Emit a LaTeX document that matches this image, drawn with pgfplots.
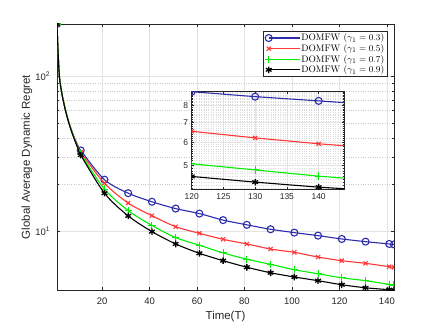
\documentclass[border=0pt]{standalone}
\usepackage{fontspec}
\setsansfont{Liberation Sans}
\usepackage{pgfplots}
\pgfplotsset{compat=1.18}
\usepackage{pgfplotstable}

\definecolor{cblue}{RGB}{45,45,170}
\definecolor{cred}{RGB}{255,55,55}
\definecolor{cgreen}{RGB}{0,240,0}
\definecolor{axgray}{RGB}{38,38,38}

\pgfplotstableread{
T blue red green black
1 217 217 217 217
1.4 150 150 150 150
2 100 100 100 100
3 78 78 78 78
4 66 66 66 65.5
5 57 57 57 56.5
6 50.5 50.3 50 49.8
7 45.5 45.2 45 44.5
8 41.3 41 40.7 40.3
9 38 37.5 37 36.7
10 35.3 34.6 34 33.7
11 33.2 32.2 31.5 31.0
21 21.5 20.4 18.7 17.6
31 17.6 15.2 13.6 12.56
41 15.5 12.6 10.9 9.95
51 14.0 10.7 9.1 8.28
61 13.0 9.7 8.13 7.21
71 11.8 8.87 7.25 6.46
81 11.0 8.28 6.6 5.86
91 10.3 7.68 6.12 5.40
101 9.8 7.31 5.65 5.07
111 9.37 6.82 5.32 4.80
121 8.92 6.46 5.01 4.52
131 8.57 6.21 4.80 4.32
141 8.28 5.91 4.54 4.20
143 8.22 5.86 4.50 4.18
}\maintab

\pgfplotstableread{
T blue red green black
120 8.92 6.54 5.07 4.59
130 8.58 6.21 4.83 4.39
140 8.30 5.93 4.60 4.22
144 8.19 5.84 4.53 4.17
}\insettab

\pgfplotsset{
  sblue/.style={color=cblue, line width=1.1bp, mark=o, mark size=3.5bp, mark options={solid}},
  sred/.style={color=cred, line width=1.1bp, mark=x, mark size=2.9bp, mark options={solid}},
  sgreen/.style={color=cgreen, line width=1.1bp, mark=+, mark size=3.7bp, mark options={solid}},
  sblack/.style={color=black, line width=1.1bp, mark=asterisk, mark size=3.3bp, mark options={solid, line width=1.3bp}},
}

\begin{document}
\begin{tikzpicture}[x=1bp,y=1bp]
\useasboundingbox (0,0) rectangle (436,327);
\begin{axis}[
  scale only axis,
  ymode=log,
  axis line style={axgray, line width=0.5bp},
  every tick/.style={axgray, line width=0.5bp},
  major tick length=3.4bp, minor tick length=2bp,
  major grid style={gray!22, line width=0.5bp},
  minor grid style={gray!42, dotted, line width=0.5bp},
  /pgf/number format/assume math mode=true,
  clip marker paths=true,
  at={(57bp,37bp)}, anchor=south west,
  width=337bp, height=266bp,
  xmin=1, xmax=143, ymin=4.18, ymax=217,
  xtick={20,40,...,140},
  ytick={10,100}, yticklabels={10\textsuperscript{1},10\textsuperscript{2}},
  xmajorgrids, ymajorgrids, yminorgrids,
  tick label style={font=\fontsize{9.5}{11}\selectfont\sffamily, text=axgray},
  xticklabel style={yshift=-4.5bp},
  yticklabel style={xshift=-3.5bp},
  xlabel={Time(T)}, ylabel={Global Average Dynamic Regret},
  label style={font=\fontsize{11.5}{13}\selectfont\sffamily, text=axgray},
  xlabel style={at={(axis description cs:0.5,-0.1)}, anchor=center},
  ylabel style={at={(axis description cs:-0.089,0.5)}, anchor=center},
  legend style={at={(1,1)}, anchor=north east, xshift=-6.5bp, yshift=-7bp,
    draw=axgray, line width=0.5bp, fill=white, inner xsep=2bp, inner ysep=1.5bp,
    font=\fontsize{9.5}{11}\selectfont, nodes={inner sep=1bp}, cells={anchor=west}},
  legend image code/.code={\draw[mark repeat=2,mark phase=2,#1] plot coordinates {(0bp,0bp) (15.5bp,0bp) (31bp,0bp)};},
]
\addplot[sblue, smooth, mark indices={1,12,13,14,15,16,17,18,19,20,21,22,23,24,25,26}] table[x=T,y=blue] {\maintab};
\addlegendentry{DOMFW ($\gamma_1=0.3$)}
\addplot[sred, smooth, mark indices={1,12,13,14,15,16,17,18,19,20,21,22,23,24,25,26}] table[x=T,y=red] {\maintab};
\addlegendentry{DOMFW ($\gamma_1=0.5$)}
\addplot[sgreen, smooth, mark indices={1,12,13,14,15,16,17,18,19,20,21,22,23,24,25,26}] table[x=T,y=green] {\maintab};
\addlegendentry{DOMFW ($\gamma_1=0.7$)}
\addplot[sblack, smooth, mark indices={1,12,13,14,15,16,17,18,19,20,21,22,23,24,25,26}] table[x=T,y=black] {\maintab};
\addlegendentry{DOMFW ($\gamma_1=0.9$)}
\end{axis}

\begin{axis}[
  scale only axis,
  ymode=log,
  axis line style={axgray, line width=0.5bp},
  every tick/.style={axgray, line width=0.5bp},
  major grid style={gray!22, line width=0.5bp},
  minor grid style={gray!28, dotted, line width=0.4bp},
  /pgf/number format/assume math mode=true,
  clip marker paths=true,
  at={(191.7bp,138bp)}, anchor=south west,
  width=152.3bp, height=97.3bp,
  axis background/.style={fill=white},
  xmin=120, xmax=144, ymin=4.16, ymax=8.92,
  xtick={120,125,...,140},
  ytick={5,6,7,8}, yticklabels={5,6,7,8},
  minor ytick={4.2,4.3,4.4,4.5,4.6,4.7,4.8,4.9,5.1,5.2,5.3,5.4,5.5,5.6,5.7,5.8,5.9,6.1,6.2,6.3,6.4,6.5,6.6,6.7,6.8,6.9,7.1,7.2,7.3,7.4,7.5,7.6,7.7,7.8,7.9,8.1,8.2,8.3,8.4,8.5,8.6,8.7,8.8,8.9},
  xmajorgrids, ymajorgrids, yminorgrids,
  major tick length=2.5bp, minor tick length=1bp,
  minor tick style={line width=0.3bp},
  tick label style={font=\fontsize{8.5}{10}\selectfont\sffamily, text=axgray},
  xticklabel style={yshift=-1.5bp},
]
\addplot[sblue, mark indices={1,2,3}] table[x=T,y=blue] {\insettab};
\addplot[sred, mark indices={1,2,3}] table[x=T,y=red] {\insettab};
\addplot[sgreen, mark indices={1,2,3}] table[x=T,y=green] {\insettab};
\addplot[sblack, mark indices={1,2,3}] table[x=T,y=black] {\insettab};
\end{axis}
\end{tikzpicture}
\end{document}
